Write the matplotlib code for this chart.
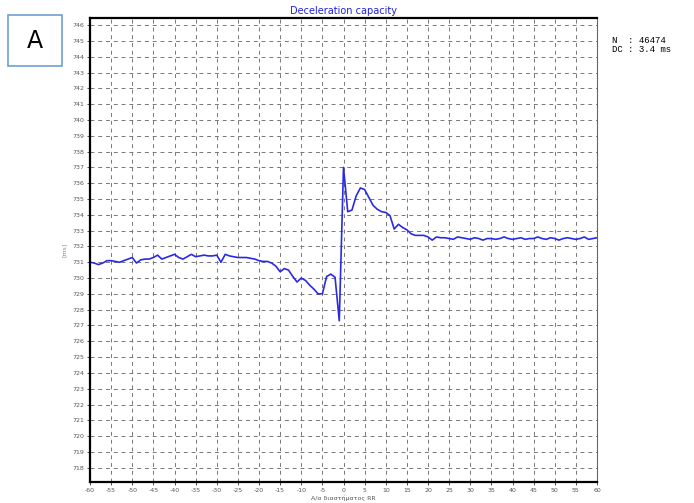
import numpy as np
import matplotlib.pyplot as plt
from matplotlib.patches import Rectangle

plt.rcParams['axes.unicode_minus'] = False

# signal averaged RR around deceleration anchors (index -60..60)
beat_index = np.arange(-60, 61)
rr_ms = [
    731.0, 730.95, 730.85, 730.95, 731.1, 731.1, 731.05, 731.0, 731.1, 731.2,
    731.3, 730.95, 731.15, 731.2, 731.2, 731.3, 731.45, 731.2, 731.3, 731.4,
    731.5, 731.3, 731.2, 731.35, 731.5, 731.35, 731.4, 731.45, 731.4, 731.4,
    731.45, 731.0, 731.5, 731.4, 731.35, 731.3, 731.3, 731.3, 731.25, 731.2,
    731.1, 731.05, 731.05, 730.95, 730.75, 730.4, 730.6, 730.5, 730.1, 729.75,
    730.0, 729.85, 729.55, 729.3, 729.0, 729.0, 730.1, 730.25, 730.05, 727.3,
    737.0,
    734.2, 734.3, 735.2, 735.7, 735.6, 735.1, 734.6, 734.35, 734.2, 734.15,
    733.95, 733.1, 733.4, 733.2, 733.05, 732.8, 732.7, 732.7, 732.7, 732.6,
    732.4, 732.6, 732.55, 732.55, 732.5, 732.45, 732.6, 732.55, 732.5, 732.45,
    732.55, 732.5, 732.4, 732.5, 732.5, 732.45, 732.5, 732.6, 732.5, 732.45,
    732.5, 732.55, 732.45, 732.5, 732.5, 732.6, 732.5, 732.45, 732.55, 732.5,
    732.4, 732.5, 732.55, 732.5, 732.45, 732.5, 732.6, 732.45, 732.5, 732.55,
]
x_ticks = np.arange(-60, 61, 5)
y_ticks = np.arange(718, 747, 1)
n_beats = 46474
dc_value = 3.4

fig = plt.figure(figsize=(6.94, 5.03), dpi=100)
ax = fig.add_axes([90/694, 21/503, 507/694, 464/503])

ax.plot(beat_index, rr_ms, color='#2a2ae6', lw=1.2)
ax.set_xlim(-60, 60)
ax.set_ylim(717.1, 746.45)
ax.set_xticks(x_ticks)
ax.set_yticks(y_ticks)
ax.tick_params(labelsize=4.5, labelcolor='#555555', length=2, width=0.6, color='#333333', pad=2)
ax.grid(True, color='#777777', lw=0.7, linestyle=(0, (4, 4)))

for side in ['left', 'bottom', 'top']:
    ax.spines[side].set_linewidth(1.6)
    ax.spines[side].set_color('black')
ax.spines['right'].set_linewidth(0.8)
ax.spines['right'].set_color('#666666')

ax.set_title('Deceleration capacity', color='#2020e0', fontsize=7, pad=3)
ax.set_ylabel('[ms]', fontsize=4.5, color='#888888', labelpad=4)
ax.set_xlabel('Α/α διαστήματος RR', fontsize=4.5, color='#555555', labelpad=2)

fig.text(612/694, 1 - 45/503, 'N  : %d\nDC : %.1f ms' % (n_beats, dc_value),
         family='Liberation Mono', fontsize=6.5, va='center', ha='left', linespacing=1.1)

fig.patches.append(Rectangle((8/694, 1 - 66/503), 54/694, 51/503, transform=fig.transFigure,
                             fill=False, edgecolor='#6f9fd0', lw=1.2))
fig.text(35/694, 1 - 41/503, 'A', fontsize=17, ha='center', va='center')

fig.savefig('out.png', dpi=100)
